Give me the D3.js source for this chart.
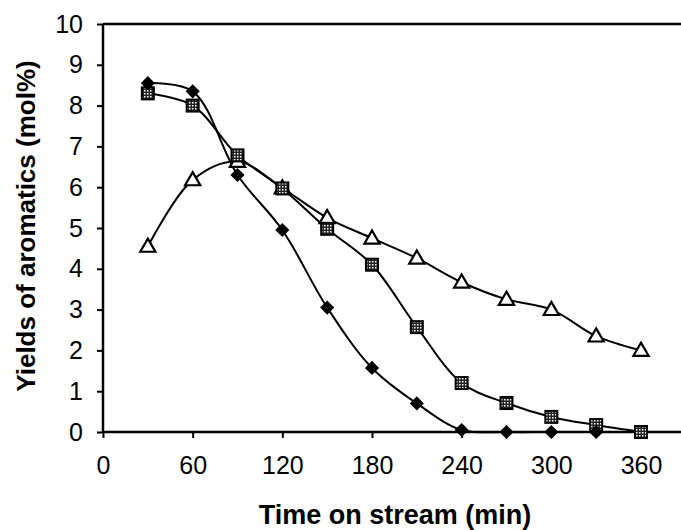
<!DOCTYPE html>
<html><head><meta charset="utf-8">
<script src="https://cdn.jsdelivr.net/npm/d3@7"></script>
<style>
body{margin:0;background:#fff;}
svg{display:block;font-family:"Liberation Sans",Arial,sans-serif;}
</style></head>
<body><svg id="c" width="681" height="530"></svg>
<script>
const times = [30,60,90,120,150,180,210,240,270,300,330,360];
const diamondYields = [8.55,8.35,6.3,4.95,3.05,1.57,0.7,0.05,0,0,0];
const squareYields  = [8.3,8.0,6.78,5.97,4.98,4.1,2.57,1.2,0.71,0.37,0.17,0];
const triangleYields= [4.55,6.18,6.63,5.98,5.25,4.75,4.26,3.67,3.25,3.0,2.35,2.0];
const xTicks = [0,60,120,180,240,300,360];
const yTicks = [0,1,2,3,4,5,6,7,8,9,10];

const svg = d3.select("#c");
const pL=103, pR=681, pT=24, pB=432;
const x = d3.scaleLinear().domain([0,360]).range([103,641]);
const y = d3.scaleLinear().domain([0,10]).range([pB,pT]);

const defs = svg.append("defs");
const pat = defs.append("pattern").attr("id","chk").attr("width",3).attr("height",3).attr("patternUnits","userSpaceOnUse");
pat.append("rect").attr("width",3).attr("height",3).attr("fill","#222");
pat.append("rect").attr("x",0).attr("y",0).attr("width",1.5).attr("height",1.5).attr("fill","#fff");

const yAxis = d3.axisLeft(y).tickValues(yTicks).tickSize(6).tickPadding(8).tickFormat(d3.format("d"));
const gy = svg.append("g").attr("transform",`translate(${pL},0)`).call(yAxis);
gy.select(".domain").remove();
gy.selectAll("line").attr("stroke","#000").attr("stroke-width",2);
gy.selectAll("text").attr("font-size",25).attr("fill","#000").attr("dx",-6);

const xAxis = d3.axisBottom(x).tickValues(xTicks).tickSize(6).tickPadding(18);
const gx = svg.append("g").attr("transform",`translate(0,${pB})`).call(xAxis);
gx.select(".domain").remove();
gx.selectAll("line").attr("stroke","#000").attr("stroke-width",2);
gx.selectAll("text").attr("font-size",25).attr("fill","#000");

svg.append("line").attr("x1",pL).attr("x2",pL).attr("y1",pT).attr("y2",pB).attr("stroke","#000").attr("stroke-width",2.5);
svg.append("line").attr("x1",pL).attr("x2",pR).attr("y1",pB).attr("y2",pB).attr("stroke","#000").attr("stroke-width",2.5);
svg.append("line").attr("x1",pL).attr("x2",pR).attr("y1",pT).attr("y2",pT).attr("stroke","#000").attr("stroke-width",2.5);

svg.append("text").attr("x",395).attr("y",524).attr("text-anchor","middle").attr("font-weight","bold").attr("font-size",27).text("Time on stream (min)");
svg.append("text").attr("transform","translate(35,226) rotate(-90)").attr("text-anchor","middle").attr("font-weight","bold").attr("font-size",26).text("Yields of aromatics (mol%)");

const line = d3.line().x((d,i)=>x(times[i])).y(d=>y(d)).curve(d3.curveCatmullRom.alpha(0.5));
const series = [
  {vals:triangleYields, type:"tri"},
  {vals:squareYields, type:"sq"},
  {vals:diamondYields, type:"dia"}
];
series.forEach(s=>{
  svg.append("path").attr("d",line(s.vals)).attr("fill","none").attr("stroke","#000").attr("stroke-width",2);
});
series.forEach(s=>{
  const g = svg.append("g");
  s.vals.forEach((v,i)=>{
    const cx=x(times[i]), cy=y(v);
    if(s.type==="dia"){
      g.append("path").attr("d",d3.symbol(d3.symbolSquare,100)()).attr("transform",`translate(${cx},${cy}) rotate(45)`).attr("fill","#000");
    } else if(s.type==="sq"){
      g.append("rect").attr("x",cx-6).attr("y",cy-6).attr("width",12).attr("height",12).attr("fill","url(#chk)").attr("stroke","#000").attr("stroke-width",2);
    } else {
      g.append("path").attr("d",d3.symbol(d3.symbolTriangle,100)()).attr("transform",`translate(${cx},${cy+1})`).attr("fill","#fff").attr("stroke","#000").attr("stroke-width",2.2);
    }
  });
});
</script></body></html>
